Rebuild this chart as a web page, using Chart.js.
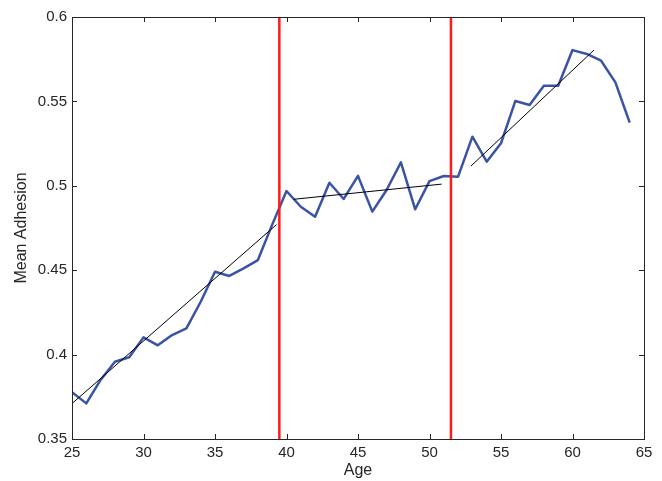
<!DOCTYPE html>
<html><head><meta charset="utf-8">
<script src="https://cdn.jsdelivr.net/npm/chart.js@4"></script>
<style>html,body{margin:0;padding:0;background:#fff;}#wrap{width:662px;height:481px;}</style>
</head><body><div id="wrap"><canvas id="c" width="662" height="481"></canvas></div>
<script>
const ages = [25,26,27,28,29,30,31,32,33,34,35,36,37,38,39,40,41,42,43,44,45,46,47,48,49,50,51,52,53,54,55,56,57,58,59,60,61,62,63,64];
const meanAdhesion = [0.3777,0.3711,0.385,0.3958,0.3984,0.4102,0.4055,0.4116,0.4155,0.4313,0.4491,0.4466,0.4511,0.456,0.477,
  0.4969,0.4876,0.4817,0.5018,0.4922,0.5059,0.4847,0.4975,0.5139,0.4861,0.5028,0.5058,0.5054,
  0.5291,0.5143,0.5252,0.5502,0.5479,0.5593,0.5593,0.5804,0.5781,0.5741,0.5613,0.5374];
const fit1Ages = [25, 39.3];
const fit1Vals = [0.371, 0.477];
const fit2Ages = [40.5, 50.85];
const fit2Vals = [0.492, 0.501];
const fit3Ages = [52.9, 61.5];
const fit3Vals = [0.5117, 0.5804];
const breakAges = [39.5, 51.5];
const xTicks = [25,30,35,40,45,50,55,60,65];
const yTicks = [0.35,0.4,0.45,0.5,0.55,0.6];
const yMin = 0.35, yMax = 0.6;

const pts = (xs, ys) => xs.map((x,i)=>({x:x, y:ys[i]}));

const datasets = [
  {data: pts(ages, meanAdhesion), borderColor:'#3a53a4', borderWidth:2.5, order:3},
  {data: pts(fit1Ages, fit1Vals), borderColor:'#000', borderWidth:1, order:2},
  {data: pts(fit2Ages, fit2Vals), borderColor:'#000', borderWidth:1, order:2},
  {data: pts(fit3Ages, fit3Vals), borderColor:'#000', borderWidth:1, order:2},
];
breakAges.forEach(a => datasets.push({data: pts([a,a],[yMin,yMax]), borderColor:'#ff1a1a', borderWidth:2.5, order:1}));
datasets.forEach(d => { d.pointRadius = 0; d.tension = 0; d.fill = false; d.borderJoinStyle='round'; });

const boxPlugin = {
  id:'box',
  afterDraw(chart){
    const {ctx, chartArea:a, scales:{x, y}} = chart;
    ctx.save();
    ctx.strokeStyle = '#262626';
    ctx.lineWidth = 1;
    ctx.strokeRect(Math.round(a.left)+0.5, Math.round(a.top)+0.5, Math.round(a.right-a.left), Math.round(a.bottom-a.top));
    const L = 5;
    ctx.beginPath();
    xTicks.forEach(v => {
      const px = Math.round(x.getPixelForValue(v)) + 0.5;
      ctx.moveTo(px, a.bottom); ctx.lineTo(px, a.bottom - L);
      ctx.moveTo(px, a.top); ctx.lineTo(px, a.top + L);
    });
    yTicks.forEach(v => {
      const py = Math.round(y.getPixelForValue(v)) + 0.5;
      ctx.moveTo(a.left, py); ctx.lineTo(a.left + L, py);
      ctx.moveTo(a.right, py); ctx.lineTo(a.right - L, py);
    });
    ctx.stroke();
    ctx.restore();
  }
};

const tickFont = {family:'"Liberation Sans", Arial, sans-serif', size:15};
const titleFont = {family:'"Liberation Sans", Arial, sans-serif', size:16};

new Chart(document.getElementById('c'), {
  type:'line',
  data:{datasets},
  options:{
    responsive:false, animation:false, devicePixelRatio:1,
    layout:{padding:{top:17, right:18, left:0, bottom:0}},
    plugins:{legend:{display:false}, tooltip:{enabled:false}},
    scales:{
      x:{type:'linear', min:25, max:65,
        afterBuildTicks: s => { s.ticks = xTicks.map(v=>({value:v})); },
        afterFit: s => { s.height = 42; },
        grid:{display:false, drawTicks:false},
        border:{display:false},
        ticks:{color:'#262626', font:tickFont, padding:5, maxRotation:0, autoSkip:false, callback:v=>String(v)},
        title:{display:true, text:'Age', color:'#262626', font:titleFont, padding:{top:0,bottom:1}}
      },
      y:{type:'linear', min:yMin, max:yMax,
        afterBuildTicks: s => { s.ticks = yTicks.map(v=>({value:v})); },
        afterFit: s => { s.width = 72; },
        grid:{display:false, drawTicks:false},
        border:{display:false},
        ticks:{color:'#262626', font:tickFont, padding:5, autoSkip:false, callback:v=>String(Number(v.toFixed(2)))},
        title:{display:true, text:'Mean Adhesion', color:'#262626', font:titleFont, padding:{top:12,bottom:0}}
      }
    }
  },
  plugins:[boxPlugin]
});
</script></body></html>
